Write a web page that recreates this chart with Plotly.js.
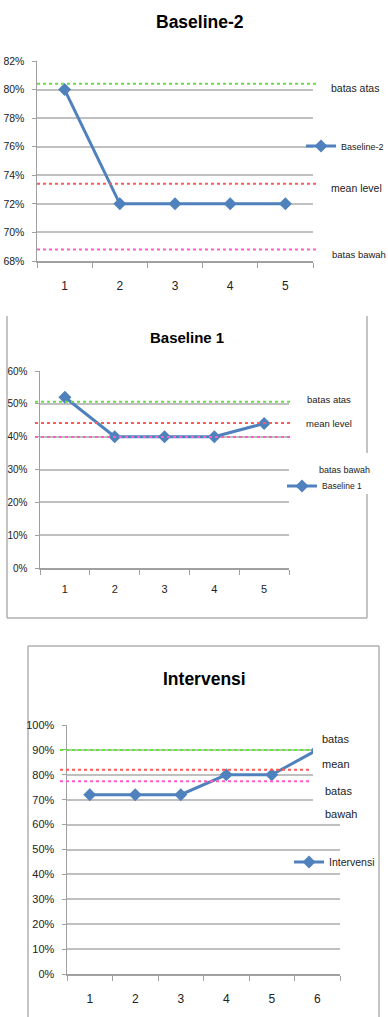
<!DOCTYPE html>
<html>
<head>
<meta charset="utf-8">
<script src="https://cdn.plot.ly/plotly-3.0.1.min.js"></script>
<style>
  html, body { margin: 0; padding: 0; background: #ffffff; overflow: hidden; }
  #chart { width: 388px; height: 1017px; }
</style>
</head>
<body>
<div id="chart"></div>
<script>
// ---------- Data ----------
const categoriesB2 = ['1', '2', '3', '4', '5'];
const baseline2 = [80, 72, 72, 72, 72];
const b2Upper = 80.4, b2Mean = 73.4, b2Lower = 68.8;

const categoriesB1 = ['1', '2', '3', '4', '5'];
const baseline1 = [52, 40, 40, 40, 44];
const b1Upper = 50.6, b1Mean = 44.2, b1Lower = 39.9;

const categoriesInt = ['1', '2', '3', '4', '5', '6'];
const intervensi = [72, 72, 72, 80, 80, 90];
const intUpper = 90, intMean = 82, intLower = 77.4;

const titles = ['Baseline-2', 'Baseline 1', 'Intervensi'];
const seriesNames = ['Baseline-2', 'Baseline 1', 'Intervensi'];

// ---------- Layout helpers ----------
const W = 388, H = 1017;
const px = v => v / W;
const py = v => 1 - v / H;
const FONT = '"Liberation Sans", Arial, sans-serif';
const BLUE = '#4F81BD';
const GRID = '#C0C0C0';
const AXIS = '#A0A0A0';
const TXT = '#222222';

function lineTrace(x, y, name, xa, ya, legend) {
  return {
    x: x, y: y, name: name, type: 'scatter', mode: 'lines+markers',
    xaxis: xa, yaxis: ya, legend: legend,
    line: { color: BLUE, width: 3 },
    marker: { symbol: 'diamond', size: 10, color: BLUE },
    cliponaxis: false, hoverinfo: 'skip'
  };
}

const data = [
  lineTrace(categoriesB2, baseline2, seriesNames[0], 'x', 'y', 'legend'),
  lineTrace(categoriesB1, baseline1, seriesNames[1], 'x2', 'y2', 'legend2'),
  lineTrace(categoriesInt, intervensi, seriesNames[2], 'x3', 'y3', 'legend3')
];

function xAxis(domain, n, anchor, standoff, fsize) {
  return {
    domain: domain, anchor: anchor, type: 'category', range: [-0.5, n - 0.5],
    tickson: 'boundaries', ticks: 'outside', ticklen: 5, tickcolor: AXIS, tickwidth: 1,
    showline: true, linecolor: AXIS, linewidth: 1.5, showgrid: false, zeroline: false,
    tickfont: { family: FONT, size: fsize, color: TXT }, ticklabelstandoff: standoff,
    fixedrange: true
  };
}
function yAxis(domain, range, dtick, anchor, fsize) {
  return {
    domain: domain, anchor: anchor, range: range, dtick: dtick, tick0: range[0],
    ticksuffix: '%', ticks: 'outside', ticklen: 4, tickcolor: AXIS,
    showline: true, linecolor: AXIS, linewidth: 1.5,
    showgrid: true, gridcolor: GRID, gridwidth: 2, zeroline: false,
    tickfont: { family: FONT, size: fsize, color: TXT }, ticklabelstandoff: 5,
    fixedrange: true
  };
}

function refLine(yref, val, color, x0, x1) {
  return {
    type: 'line', xref: 'paper', yref: yref, x0: px(x0), x1: px(x1), y0: val, y1: val,
    line: { color: color, width: 2, dash: 'dot' }, layer: 'above'
  };
}
function border(x0, y0, x1, y1) {
  return {
    type: 'line', xref: 'paper', yref: 'paper', x0: px(x0), x1: px(x1), y0: py(y0), y1: py(y1),
    line: { color: '#B0B0B0', width: 1.5 }, layer: 'below'
  };
}
function label(text, x, y, size, anchor) {
  return {
    text: text, xref: 'paper', yref: 'paper', x: px(x), y: py(y),
    xanchor: anchor || 'left', yanchor: 'middle', showarrow: false,
    font: { family: FONT, size: size, color: TXT }
  };
}
function title(text, x, y, size) {
  return {
    text: '<b>' + text + '</b>', xref: 'paper', yref: 'paper', x: px(x), y: py(y),
    xanchor: 'center', yanchor: 'middle', showarrow: false,
    font: { family: FONT, size: size, color: '#000000' }
  };
}
function legendAt(x, y, size) {
  return {
    x: px(x), y: py(y), xanchor: 'left', yanchor: 'middle',
    bgcolor: 'rgba(0,0,0,0)', borderwidth: 0, itemwidth: 30,
    font: { family: FONT, size: size, color: TXT }
  };
}

const GREEN = '#66E040', RED = '#FF5A5A', PINK = '#FF5CC8';

const layout = {
  width: W, height: H,
  margin: { l: 0, r: 0, t: 0, b: 0, autoexpand: false },
  paper_bgcolor: '#ffffff', plot_bgcolor: 'rgba(0,0,0,0)',
  showlegend: true,
  xaxis: xAxis([px(37), px(313)], 5, 'y', 13, 12),
  yaxis: yAxis([py(261), py(61)], [68, 82], 2, 'x', 10.5),
  xaxis2: xAxis([px(40), px(289)], 5, 'y2', 10, 11),
  yaxis2: yAxis([py(568), py(371)], [0, 60], 10, 'x2', 10),
  xaxis3: xAxis([px(67), px(340)], 6, 'y3', 13, 12),
  yaxis3: yAxis([py(974), py(725)], [0, 100], 10, 'x3', 11),
  legend: legendAt(301, 146, 9),
  legend2: legendAt(282, 486, 8.5),
  legend3: legendAt(289, 862, 10.5),
  shapes: [
    refLine('y', b2Upper, GREEN, 37, 318),
    refLine('y', b2Mean, RED, 37, 318),
    refLine('y', b2Lower, PINK, 37, 318),
    refLine('y2', b1Upper, GREEN, 35, 293),
    refLine('y2', b1Mean, RED, 35, 293),
    refLine('y2', b1Lower, PINK, 35, 293),
    refLine('y3', intUpper, GREEN, 60, 312),
    refLine('y3', intMean, RED, 60, 312),
    refLine('y3', intLower, PINK, 60, 310),
    // text box background covering the top-right of chart 3
    { type: 'rect', xref: 'paper', yref: 'paper', x0: px(313), x1: px(366), y0: py(803), y1: py(718),
      fillcolor: '#ffffff', line: { width: 0 }, layer: 'above' },
    // chart 2 frame
    border(7, 316, 7, 618),
    border(7, 618, 367, 618),
    border(367, 316, 367, 453),
    border(367, 494, 367, 618),
    // chart 3 frame
    border(28, 646, 28, 1017),
    border(28, 646, 379, 646),
    border(379, 646, 379, 1017)
  ],
  annotations: [
    title(titles[0], 200, 22, 17.5),
    title(titles[1], 187, 337, 15),
    title(titles[2], 204, 679, 17.5),
    label('batas atas', 329, 88, 10.5),
    label('mean level', 329, 188, 10.5),
    label('batas bawah', 330, 255, 9.5),
    label('batas atas', 305, 399, 9.5),
    label('mean level', 304, 423, 9.5),
    label('batas bawah', 317, 470, 9),
    label('batas', 320, 739, 11),
    label('mean', 320, 764, 11),
    label('batas', 323, 791, 11),
    label('bawah', 323, 814, 11)
  ]
};

Plotly.newPlot('chart', data, layout, { displayModeBar: false, staticPlot: true });
</script>
</body>
</html>
